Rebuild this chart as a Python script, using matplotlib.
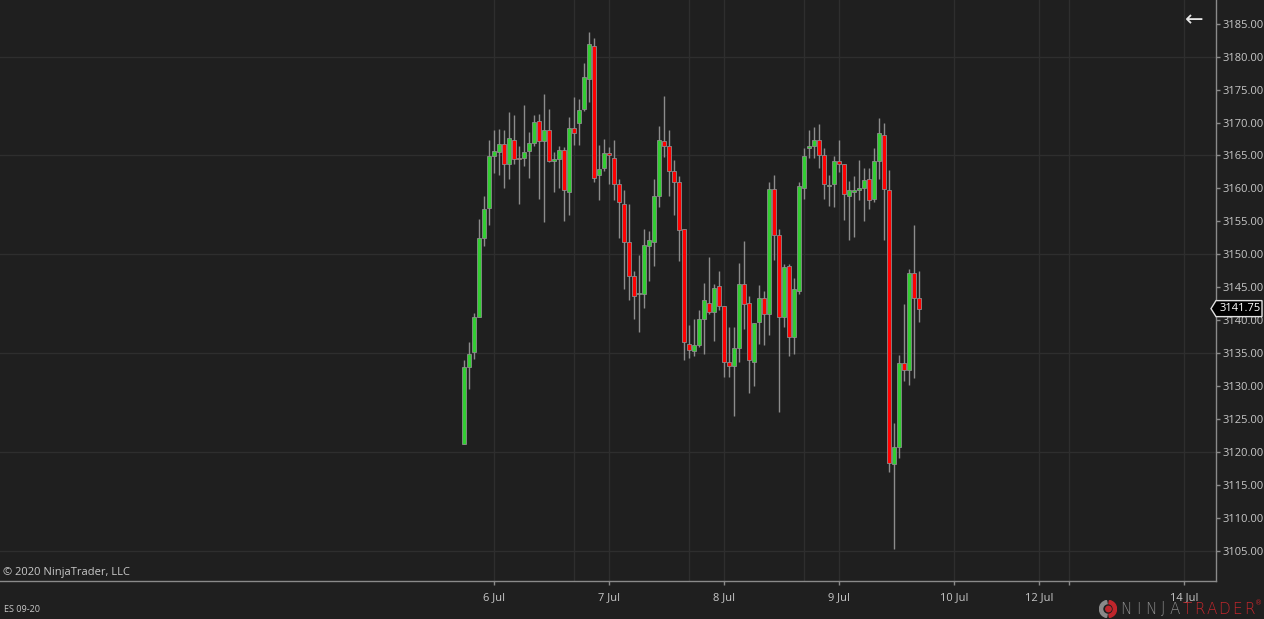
import numpy as np
import matplotlib.pyplot as plt
from matplotlib.patches import Polygon, Circle, Wedge

# hourly ES 09-20 bars
opens = [3121.25, 3132.9, 3135.15, 3140.5, 3152.5, 3157.0, 3164.9, 3165.6, 3166.7, 3163.7,
         3167.4, 3164.6, 3164.6, 3165.7, 3166.9, 3170.3, 3167.2, 3168.9, 3164.1, 3164.4,
         3165.9, 3159.4, 3169.1, 3169.9, 3172.1, 3176.6, 3181.6, 3162.0, 3163.1, 3165.4,
         3164.6, 3160.7, 3157.7, 3151.8, 3146.7, 3143.9, 3144.0, 3151.2, 3151.8, 3158.8,
         3167.2, 3166.4, 3162.6, 3160.9, 3153.9, 3136.4, 3135.3, 3136.3, 3140.2, 3142.6,
         3141.2, 3145.2, 3142.2, 3133.7, 3133.0, 3135.7, 3145.5, 3142.6, 3133.6, 3139.7,
         3143.4, 3140.9, 3159.9, 3153.0, 3140.5, 3148.2, 3137.5, 3144.4, 3160.1, 3166.2,
         3166.4, 3167.3, 3165.1, 3160.4, 3160.7, 3164.1, 3163.7, 3158.9, 3159.4, 3159.7,
         3160.0, 3161.5, 3158.4, 3164.1, 3168.1, 3159.7, 3118.1, 3120.8, 3133.5, 3132.5,
         3147.2, 3143.4]
highs = [3133.9, 3136.7, 3141.1, 3155.4, 3158.9, 3167.4, 3168.9, 3169.0, 3168.9, 3171.6,
         3171.1, 3166.4, 3172.6, 3168.5, 3171.1, 3171.3, 3174.4, 3172.1, 3165.6, 3166.4,
         3166.3, 3170.9, 3173.8, 3173.6, 3179.1, 3183.8, 3182.8, 3166.6, 3167.5, 3166.3,
         3167.4, 3161.5, 3159.7, 3157.7, 3147.4, 3149.9, 3153.9, 3153.6, 3161.5, 3169.4,
         3174.1, 3168.9, 3164.3, 3161.9, 3153.9, 3139.2, 3140.1, 3141.6, 3145.6, 3149.6,
         3145.5, 3147.4, 3142.2, 3138.9, 3138.9, 3148.6, 3152.0, 3143.6, 3139.6, 3145.4,
         3144.4, 3160.9, 3162.1, 3153.9, 3148.5, 3148.5, 3146.4, 3160.9, 3166.1, 3168.9,
         3169.3, 3169.8, 3166.1, 3162.1, 3164.9, 3167.4, 3163.7, 3161.1, 3161.9, 3164.3,
         3163.1, 3163.1, 3166.1, 3170.7, 3169.9, 3162.8, 3124.4, 3134.7, 3142.4, 3147.7,
         3154.4, 3147.4]
lows = [3121.25, 3129.6, 3134.1, 3140.5, 3151.3, 3154.4, 3162.4, 3162.0, 3160.0, 3161.4,
        3163.7, 3157.7, 3163.4, 3161.6, 3166.4, 3158.4, 3154.9, 3164.0, 3159.4, 3160.0,
        3155.1, 3155.9, 3166.6, 3166.6, 3171.8, 3173.1, 3161.0, 3158.2, 3162.6, 3160.7,
        3158.2, 3152.5, 3144.8, 3143.1, 3140.1, 3138.2, 3141.9, 3146.0, 3148.2, 3157.2,
        3164.7, 3158.8, 3155.9, 3149.0, 3133.9, 3134.3, 3134.5, 3135.9, 3134.9, 3140.9,
        3136.9, 3141.5, 3131.3, 3131.4, 3125.4, 3133.6, 3138.7, 3129.0, 3130.0, 3136.4,
        3136.2, 3137.7, 3149.2, 3126.0, 3139.0, 3134.5, 3134.8, 3144.0, 3158.4, 3164.6,
        3164.6, 3163.1, 3158.4, 3157.4, 3157.2, 3162.5, 3155.2, 3152.2, 3152.6, 3158.3,
        3155.1, 3156.8, 3158.0, 3161.5, 3152.1, 3116.9, 3105.3, 3119.0, 3130.8, 3130.2,
        3131.2, 3139.7]
closes = [3132.9, 3134.9, 3140.5, 3152.5, 3156.9, 3164.9, 3165.7, 3166.7, 3163.7, 3167.7,
          3164.4, 3164.4, 3165.6, 3166.9, 3170.1, 3167.2, 3168.9, 3164.1, 3164.4, 3165.9,
          3159.7, 3169.1, 3168.4, 3171.9, 3176.9, 3181.9, 3161.6, 3163.0, 3165.4, 3165.0,
          3160.7, 3157.9, 3151.8, 3146.7, 3143.6, 3144.0, 3151.4, 3152.2, 3158.9, 3167.4,
          3166.4, 3162.6, 3160.9, 3153.7, 3136.7, 3135.5, 3136.3, 3140.2, 3143.0, 3141.2,
          3144.9, 3142.2, 3133.6, 3133.0, 3135.7, 3145.5, 3142.5, 3134.0, 3139.5, 3143.4,
          3140.9, 3159.9, 3153.0, 3140.5, 3148.0, 3137.5, 3144.8, 3160.4, 3164.9, 3166.4,
          3167.3, 3165.1, 3160.7, 3160.4, 3164.1, 3163.7, 3159.2, 3159.7, 3159.7, 3160.0,
          3161.2, 3158.2, 3164.1, 3168.4, 3159.9, 3118.3, 3120.7, 3133.5, 3132.5, 3147.2,
          3143.3, 3141.75]

# date ticks in bar units (bar 0 = first bar)
day_ticks = [6, 29, 52, 75, 98, 115, 121, 144]
day_labels = ['6 Jul', '7 Jul', '8 Jul', '9 Jul', '10 Jul', '12 Jul', '', '14 Jul']
minor_grid = [22, 45, 68]
price_ticks = np.arange(3105, 3186, 5)
last_price = closes[-1]

bg = '#1f1f1f'
grid_c = '#2e2e2e'
axis_c = '#8a8a8a'
text_c = '#c8c8c8'
up_c = '#32cd32'
down_c = '#ff0000'
wick_c = '#8c8c8c'

W, H = 1264, 619
fig = plt.figure(figsize=(W / 100, H / 100), dpi=100, facecolor=bg)
ax = fig.add_axes([0, 38 / H, 1216 / W, 581 / H], facecolor=bg)

o = np.array(opens)
h = np.array(highs)
l = np.array(lows)
c = np.array(closes)
x = np.arange(len(o))

colors = np.where(c >= o, up_c, down_c)
ax.vlines(x, l, h, color=wick_c, linewidth=1, zorder=2)
body = np.maximum(np.abs(c - o), 0.18)
ax.bar(x, body, bottom=np.minimum(o, c), width=0.8, color=colors,
       edgecolor=wick_c, linewidth=0.6, zorder=3)

ax.set_xlim(-92.8, 150.4)
ax.set_ylim(3100.4, 3188.6)

# grid
for yv in range(3105, 3186, 15):
    ax.axhline(yv, color=grid_c, linewidth=1, zorder=0)
for xv in day_ticks + minor_grid:
    ax.axvline(xv, color=grid_c, linewidth=1, zorder=0)

for s in ['top', 'left']:
    ax.spines[s].set_visible(False)
for s in ['right', 'bottom']:
    ax.spines[s].set_color(axis_c)
    ax.spines[s].set_linewidth(1)

ax.yaxis.tick_right()
ax.set_yticks(price_ticks)
ax.set_yticklabels([f'{p:.2f}' for p in price_ticks])
ax.tick_params(axis='y', colors=axis_c, labelcolor=text_c, length=3, width=1,
               pad=2, labelsize=8)
ax.set_xticks(day_ticks)
ax.set_xticklabels(day_labels)
ax.tick_params(axis='x', colors=axis_c, labelcolor=text_c, length=3, width=1,
               pad=5, labelsize=8)
for lab in ax.get_xticklabels() + ax.get_yticklabels():
    lab.set_family('Open Sans')

# last price marker
py = ax.transData.transform((0, last_price))[1]
px0 = 1211
pts = [(px0, py), (px0 + 5, py + 8), (W - 2, py + 8), (W - 2, py - 8), (px0 + 5, py - 8)]
pts = [(a / W, b / H) for a, b in pts]
fig.patches.append(Polygon(pts, closed=True, transform=fig.transFigure,
                           facecolor='black', edgecolor='#e0e0e0', linewidth=1, zorder=5))
fig.text((px0 + 9) / W, py / H, f'{last_price:.2f}', color='white', fontsize=8,
         family='Open Sans', va='center', ha='left', zorder=6)

# back arrow, top right
fig.text(1194 / W, 1 - 20 / H, '\u2190', color='#e6e6e6', fontsize=16,
         ha='center', va='center', family='DejaVu Sans')

# texts
fig.text(3 / W, 1 - 572 / H, '\u00a9 2020 NinjaTrader, LLC', color=text_c,
         fontsize=8, family='Open Sans', va='center', ha='left')
fig.text(4 / W, 1 - 609 / H, 'ES 09-20', color=text_c, fontsize=6.5,
         family='Open Sans', va='center', ha='left')

# logo
logo_y = 1 - 609 / H
for i, ch in enumerate('NINJATRADER'):
    col = '#8a8a8a' if i < 5 else '#c0262c'
    fig.text((1126 + i * 12.3) / W, logo_y, ch, color=col, fontsize=11,
             family='DejaVu Sans', fontweight='light', ha='center', va='center')
fig.text(1259 / W, 1 - 603 / H, '\u00ae', color='#c0262c', fontsize=5,
         ha='center', va='center')
icon_ax = fig.add_axes([1099 / W, 1 - 618 / H, 18 / W, 18 / H])
icon_ax.set_xlim(-1, 1)
icon_ax.set_ylim(-1, 1)
icon_ax.set_aspect('equal')
icon_ax.axis('off')
icon_ax.add_patch(Wedge((0, 0), 0.95, 100, 260, width=0.35, color='#8a8a8a'))
icon_ax.add_patch(Wedge((0, 0), 0.95, -80, 80, width=0.35, color='#c0262c'))
icon_ax.add_patch(Circle((0.05, 0), 0.3, color='#c0262c'))

fig.savefig('out.png', dpi=100, facecolor=bg)
